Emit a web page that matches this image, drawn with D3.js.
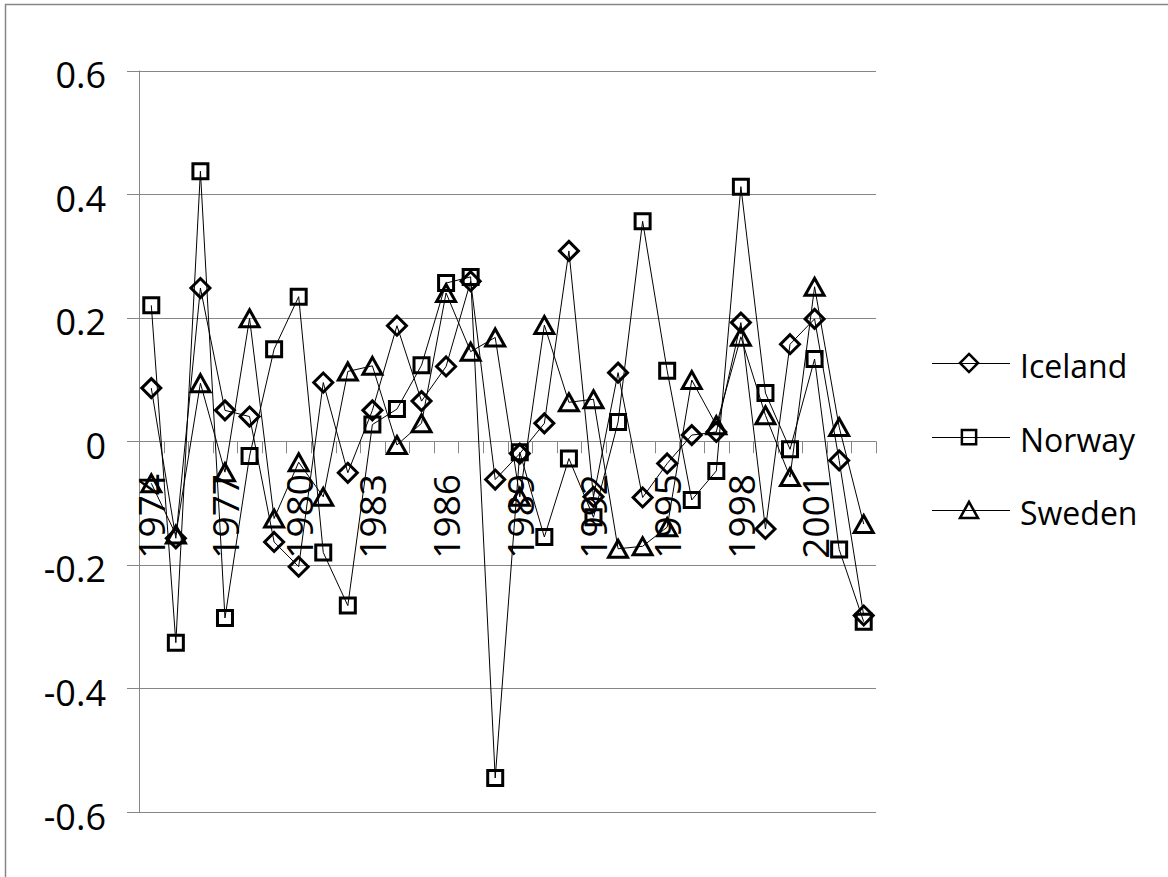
<!DOCTYPE html>
<html>
<head>
<meta charset="utf-8">
<script src="https://cdn.jsdelivr.net/npm/d3@7"></script>
<style>
  html, body { margin: 0; padding: 0; background: #fff; }
  svg { display: block; }
  text { font-family: "Open Sans", "Liberation Sans", sans-serif; fill: #000; }
</style>
</head>
<body>
<svg id="chart" width="1168" height="877"></svg>
<script>
const years = d3.range(1974, 2004);
const iceland = [0.086, -0.157, 0.248, 0.050, 0.040, -0.163, -0.203, 0.095, -0.051, 0.050,
                 0.187, 0.065, 0.121, 0.259, -0.062, -0.020, 0.029, 0.308, -0.090, 0.111,
                 -0.091, -0.036, 0.010, 0.015, 0.192, -0.142, 0.157, 0.198, -0.031, -0.282];
const norway = [0.220, -0.326, 0.437, -0.286, -0.024, 0.149, 0.234, -0.180, -0.266, 0.027,
                0.052, 0.123, 0.256, 0.266, -0.545, -0.018, -0.155, -0.028, -0.123, 0.031,
                0.356, 0.114, -0.095, -0.048, 0.412, 0.078, -0.013, 0.133, -0.175, -0.292];
const sweden = [-0.068, -0.151, 0.094, -0.050, 0.199, -0.125, -0.034, -0.090, 0.113, 0.122,
                -0.006, 0.029, 0.240, 0.145, 0.168, -0.090, 0.188, 0.063, 0.068, -0.174,
                -0.170, -0.139, 0.099, 0.026, 0.169, 0.042, -0.058, 0.250, 0.023, -0.134];
const seriesNames = ["Iceland", "Norway", "Sweden"];
const yTicks = [-0.6, -0.4, -0.2, 0, 0.2, 0.4, 0.6];
const yTickLabels = ["-0.6", "-0.4", "-0.2", "0", "0.2", "0.4", "0.6"];
const xLabelYears = [1974, 1977, 1980, 1983, 1986, 1989, 1992, 1995, 1998, 2001];

const series = [
  { name: seriesNames[0], values: iceland, shape: "diamond" },
  { name: seriesNames[1], values: norway, shape: "square" },
  { name: seriesNames[2], values: sweden, shape: "triangle" }
];

const svg = d3.select("#chart");
const L = 139, R = 876, T = 70.5, B = 812;
const grid = "#868686";

// outer border
svg.append("rect").attr("x", 5.5).attr("y", 4.5).attr("width", 1300).attr("height", 1000)
  .attr("fill", "none").attr("stroke", grid).attr("stroke-width", 1.5);

const x = d3.scaleBand().domain(years).range([L, R]).paddingInner(0).paddingOuter(0);
const y = d3.scaleLinear().domain([-0.6, 0.6]).range([B, T]);
const cx = yr => x(yr) + x.bandwidth() / 2;

// gridlines
svg.append("g").selectAll("line").data(yTicks).join("line")
  .attr("x1", 127).attr("x2", R)
  .attr("y1", d => Math.round(y(d)) + 0.5).attr("y2", d => Math.round(y(d)) + 0.5)
  .attr("stroke", grid).attr("stroke-width", 1);

// y axis line
svg.append("line").attr("x1", L + 0.5).attr("x2", L + 0.5).attr("y1", y(0.6)).attr("y2", y(-0.6))
  .attr("stroke", grid).attr("stroke-width", 1);

// y labels
svg.append("g").selectAll("text").data(yTicks).join("text")
  .attr("x", 106).attr("y", d => y(d) + 17.5)
  .attr("text-anchor", "end").attr("font-size", 36)
  .text((d, i) => yTickLabels[i]);

// x axis ticks at category boundaries
const bounds = years.map(yr => x(yr)).concat([R]);
svg.append("g").selectAll("line").data(bounds).join("line")
  .attr("x1", d => Math.round(d) + 0.5).attr("x2", d => Math.round(d) + 0.5)
  .attr("y1", y(0)).attr("y2", y(0) + 12)
  .attr("stroke", grid).attr("stroke-width", 1);

// x labels (rotated)
svg.append("g").selectAll("text").data(xLabelYears).join("text")
  .attr("transform", d => `translate(${cx(d) + 14},474) rotate(-90)`)
  .attr("text-anchor", "end").attr("font-size", 37)
  .text(d => d);

// marker path generator
function markerPath(shape, s) {
  if (shape === "diamond") {
    const h = 9.5 * s;
    return `M0,${-h}L${h},0L0,${h}L${-h},0Z`;
  } else if (shape === "square") {
    const h = 7.5 * s;
    return `M${-h},${-h}H${h}V${h}H${-h}Z`;
  } else {
    const w = 9.5 * s, hh = 8.5 * s;
    return `M0,${-hh}L${w},${hh}L${-w},${hh}Z`;
  }
}

const line = d3.line().x((d, i) => cx(years[i])).y(d => y(d));

series.forEach(s => {
  const g = svg.append("g");
  g.append("path").datum(s.values).attr("d", line)
    .attr("fill", "none").attr("stroke", "#000").attr("stroke-width", 1);
  g.selectAll("path.m").data(s.values).join("path").attr("class", "m")
    .attr("transform", (d, i) => `translate(${cx(years[i])},${y(d)})`)
    .attr("d", markerPath(s.shape, 1))
    .attr("fill", "none").attr("stroke", "#000").attr("stroke-width", 3)
    .attr("stroke-linejoin", "miter");
});

// legend
const legY = [363, 437, 510];
const leg = svg.append("g");
series.forEach((s, i) => {
  const gy = legY[i];
  leg.append("line").attr("x1", 932).attr("x2", 1010).attr("y1", gy + 0.5).attr("y2", gy + 0.5)
    .attr("stroke", "#000").attr("stroke-width", 1);
  leg.append("path").attr("transform", `translate(969,${gy})`)
    .attr("d", markerPath(s.shape, 0.95))
    .attr("fill", "none").attr("stroke", "#000").attr("stroke-width", 2.5);
  leg.append("text").attr("x", 1020).attr("y", gy + 15).attr("font-size", 32).text(s.name);
});
</script>
</body>
</html>
